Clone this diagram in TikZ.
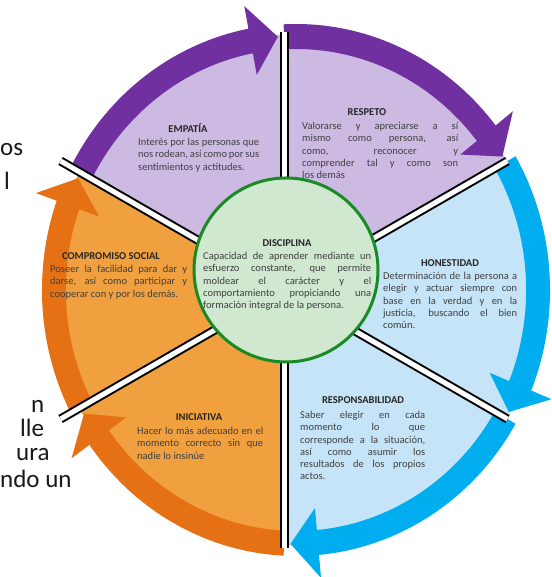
\documentclass[tikz,border=0pt]{standalone}
\usepackage{fontspec}
\setmainfont{Carlito}
\usetikzlibrary{positioning}

\definecolor{lila}{RGB}{112,48,160}
\definecolor{lilaclaro}{RGB}{204,186,226}
\definecolor{azul}{RGB}{0,174,239}
\definecolor{azulclaro}{RGB}{198,228,248}
\definecolor{naranja}{RGB}{230,112,20}
\definecolor{naranjaclaro}{RGB}{240,160,62}
\definecolor{verde}{RGB}{26,138,36}
\definecolor{verdeclaro}{RGB}{208,231,208}
\definecolor{texto}{RGB}{64,64,64}

\tikzset{
	titulo/.style={font=\bfseries\fontsize{10.5}{12}\selectfont, text=black!85, inner sep=0pt},
	cuerpo/.style={font=\fontsize{10.5}{12.3}\selectfont, text=texto, align=justify, inner sep=0pt, anchor=north west},
	fragmento/.style={font=\fontsize{25}{30}\selectfont, text=black!90, inner sep=0pt, anchor=base west},
	radio/.style={line width=9pt, draw=black},
	radioblanco/.style={line width=5pt, draw=white},
	anillo/.style={shift={(296,287)}, xscale=0.955},
}

% flecha circular: angulo inicial, angulo final, color
\newcommand{\flecha}[3]{%
	\fill[#3] (#1:266) arc[start angle=#1, end angle=#2+8, radius=266]
	-- (#2+8:289) -- (#2+1.5:254) -- (#2+8:219) -- (#2+8:241)
	arc[start angle=#2+8, end angle=#1, radius=241] -- cycle;}

% sector: angulo, angulo, color
\newcommand{\sector}[3]{%
	\begin{scope}
		\clip (284,287) -- ++(#1:420) arc[start angle=#1, end angle=#2, radius=420] -- cycle;
		\fill[#3] (296,287) ellipse[x radius=244, y radius=256];
	\end{scope}}

\begin{document}
\begin{tikzpicture}[x=1pt,y=1pt]
	\fill[white] (0,0) rectangle (551,577);
	\useasboundingbox (0,0) rectangle (551,577);
	
	% sectores
	\sector{150}{30}{lilaclaro}
	\sector{30}{-90}{azulclaro}
	\sector{-90}{-210}{naranjaclaro}
	
	% flechas del anillo
	\begin{scope}[anillo]
		\flecha{152.4}{92.8}{lila}
		\flecha{92.8}{30.2}{lila}
		\flecha{30.2}{-30.2}{azul}
		\flecha{-30.2}{-92.8}{azul}
		\flecha{-92.8}{-152.4}{naranja}
		\flecha{207.6}{152.4}{naranja}
	\end{scope}
	
	% radios
	\foreach \a in {90,30,-30,-90,-150,150}
	{
		\draw[radio] (284,287) ++(\a:60) -- ++(\a:198);
		\draw[radioblanco] (284,287) ++(\a:60) -- ++(\a:198);
	}
	
	\node[circle, minimum size=184pt, fill=verdeclaro, draw=verde, line width=3pt] (centro) at (286,307) {};
	
	% textos
	\node[titulo] (tDisciplina) at (287,334) {DISCIPLINA};
	\node[cuerpo, text width=168pt] (cDisciplina) at (203,325) {Capacidad de aprender mediante un\linebreak esfuerzo constante, que permite\linebreak moldear el carácter y el\linebreak comportamiento propiciando una\linebreak formación integral de la persona.};
	
	\node[titulo] (tEmpatia) at (188,449) {EMPATÍA};
	\node[cuerpo, text width=121pt] (cEmpatia) at (138,439) {Interés por las personas que\linebreak nos rodean, así como por sus\linebreak sentimientos y actitudes.};
	
	\node[titulo] (tRespeto) at (367,465) {RESPETO};
	\node[cuerpo, text width=156pt] (cRespeto) at (302,455) {Valorarse y apreciarse a sí\linebreak mismo como persona, así\linebreak como, reconocer y\linebreak comprender tal y como son\linebreak los demás};
	
	\node[titulo] (tHonestidad) at (450,314) {HONESTIDAD};
	\node[cuerpo, text width=134pt] (cHonestidad) at (383,305) {Determinación de la persona a\linebreak elegir y actuar siempre con\linebreak base en la verdad y en la\linebreak justicia, buscando el bien\linebreak común.};
	
	\node[titulo] (tResponsabilidad) at (363,177) {RESPONSABILIDAD};
	\node[cuerpo, text width=125pt] (cResponsabilidad) at (300,166) {Saber elegir en cada\linebreak momento lo que\linebreak corresponde a la situación,\linebreak así como asumir los\linebreak resultados de los propios\linebreak actos.};
	
	\node[titulo] (tIniciativa) at (199,160) {INICIATIVA};
	\node[cuerpo, text width=126pt] (cIniciativa) at (137,150) {Hacer lo más adecuado en el\linebreak momento correcto sin que\linebreak nadie lo insinúe};
	
	\node[titulo] (tCompromiso) at (111,321) {COMPROMISO SOCIAL};
	\node[cuerpo, text width=137pt] (cCompromiso) at (50,312) {Poseer la facilidad para dar y\linebreak darse, así como participar y\linebreak cooperar con y por los demás.};
	
	% fragmentos del texto vecino
	\node[fragmento] (f1) at (0,421) {os};
	\node[fragmento] (f2) at (4,387) {l};
	\node[fragmento] (f3) at (31,164) {n};
	\node[fragmento] (f4) at (20,140) {lle};
	\node[fragmento] (f5) at (16,116) {ura};
	\node[fragmento] (f6) at (0,89) {ndo un};
\end{tikzpicture}
\end{document}
